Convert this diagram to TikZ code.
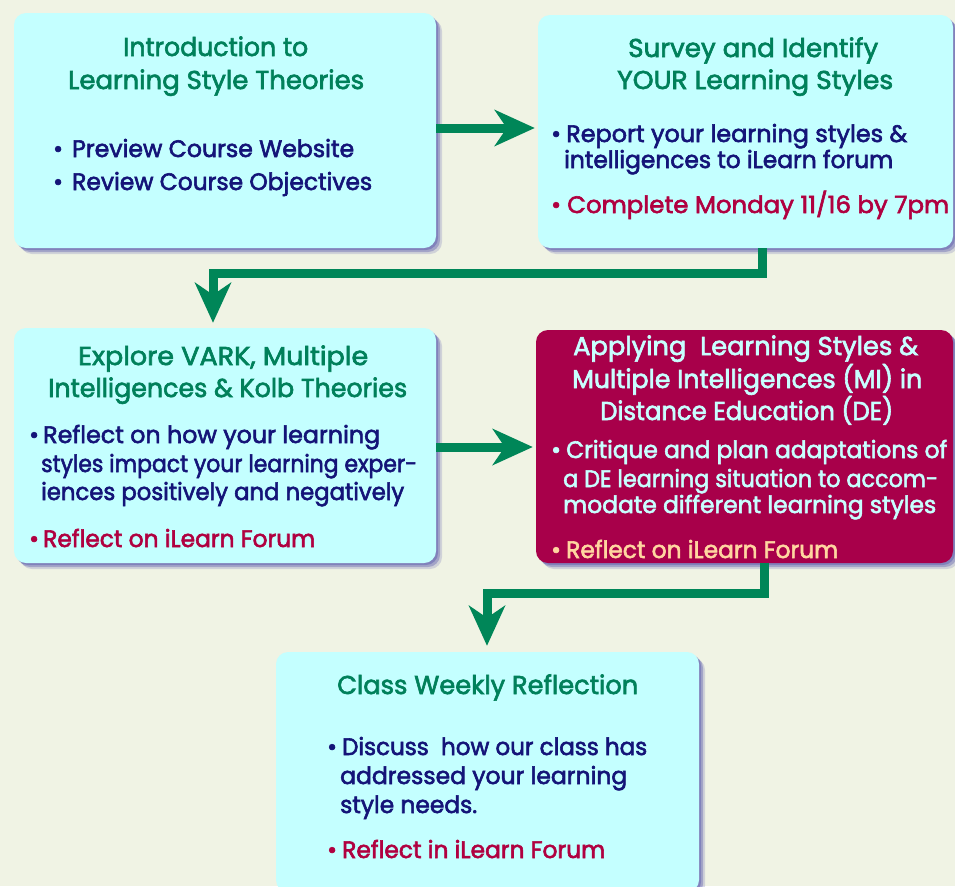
\documentclass[tikz,border=0pt]{standalone}
\usepackage{fontspec}
\usepackage{graphicx}
\setmainfont{Poppins}[UprightFeatures={FakeBold=2.4}]
\usetikzlibrary{arrows.meta,shadows}
\definecolor{bgc}{RGB}{240,243,228}
\definecolor{boxc}{RGB}{196,255,255}
\definecolor{titlec}{RGB}{0,128,90}
\definecolor{navyc}{RGB}{20,20,120}
\definecolor{redc}{RGB}{176,0,64}
\definecolor{maroonc}{RGB}{168,0,74}
\definecolor{lightc}{RGB}{200,255,255}
\definecolor{peachc}{RGB}{255,214,160}
\definecolor{arrowc}{RGB}{0,134,88}
\definecolor{shadowc}{RGB}{80,80,170}
\newcommand{\tfont}{\fontsize{25.8}{30}\selectfont}
\newcommand{\bfont}{\fontsize{23.8}{28}\selectfont}
\newcommand{\fw}[2]{\resizebox{#1pt}{\height}{#2}}
\begin{document}
\begin{tikzpicture}[x=1pt,y=-1pt,
  card/.style={rectangle, rounded corners=12pt, inner sep=0pt, fill=boxc,
    drop shadow={shadow xshift=2pt, shadow yshift=-2pt, opacity=0.4, fill=shadowc},
    drop shadow={shadow xshift=4pt, shadow yshift=-4pt, opacity=0.35, fill=shadowc},
    drop shadow={shadow xshift=6pt, shadow yshift=-6pt, opacity=0.2, fill=shadowc}},
  hot/.style={card, fill=maroonc},
  ttl/.style={font=\tfont, text=titlec, anchor=base west, inner sep=0pt},
  txt/.style={font=\bfont, text=navyc, anchor=base west, inner sep=0pt},
  arr/.style={draw=arrowc, line width=9pt, -{Stealth[length=40pt,width=36pt,inset=12pt]}}]
\fill[bgc] (0,0) rectangle (955,886);
\useasboundingbox (0,0) rectangle (955,886);
% boxes
\node[card, minimum width=422pt, minimum height=235pt] (b1) at (225,130.5) {};
\node[card, minimum width=415pt, minimum height=233pt] (b2) at (745.5,131.5) {};
\node[card, minimum width=422pt, minimum height=235pt] (b3) at (225,445.5) {};
\node[hot, minimum width=417pt, minimum height=233pt] (b4) at (744.5,446.5) {};
\node[card, minimum width=423pt, minimum height=240pt] (b5) at (487.5,772) {};
% arrows
\draw[arr, shorten >=3pt] (b1.east |- 0,128) -- (b2.west |- 0,128);
\draw[arr, shorten >=5pt] (b2.south -| 762,0) -- (762,273) -| (b3.north -| 213,0);
\draw[arr, shorten >=3pt] (b3.east |- 0,447) -- (b4.west |- 0,447);
\draw[arr, shorten >=6pt] (b4.south -| 764,0) -- (764,593) -| (b5.north -| 487,0);
% box 1
\node[ttl] (t1a) at (123,56) {\fw{185}{Introduction to}};
\node[ttl] (t1b) at (68,89) {\fw{296}{Learning Style Theories}};
\node[txt] (p1a) at (53,157) {•};
\node[txt] (x1a) at (72,157) {\fw{282}{Preview Course Website}};
\node[txt] (p1b) at (53,190) {•};
\node[txt] (x1b) at (72,190) {\fw{300}{Review Course Objectives}};
% box 2
\node[ttl] (t2a) at (628,57) {\fw{250}{Survey and Identify}};
\node[ttl] (t2b) at (617,89) {\fw{276}{YOUR Learning Styles}};
\node[txt] (p2a) at (551,142) {•};
\node[txt] (x2a) at (566,142) {\fw{341}{Report your learning styles \&}};
\node[txt] (x2b) at (564,168) {\fw{329}{intelligences to iLearn forum}};
\node[txt, text=redc] (p2c) at (551,213) {•};
\node[txt, text=redc] (x2c) at (567,213) {\fw{382}{Complete Monday 11/16 by 7pm}};
% box 3
\node[ttl] (t3a) at (78,365) {\fw{290}{Explore VARK, Multiple}};
\node[ttl] (t3b) at (48,397) {\fw{359}{Intelligences \& Kolb Theories}};
\node[txt] (p3a) at (29,443) {•};
\node[txt] (x3a) at (43,443) {\fw{337}{Reflect on how your learning}};
\node[txt] (x3b) at (41,472) {\fw{376}{styles impact your learning exper-}};
\node[txt] (x3c) at (41,500) {\fw{363}{iences positively and negatively}};
\node[txt, text=redc] (p3d) at (29,547) {•};
\node[txt, text=redc] (x3d) at (43,547) {\fw{272}{Reflect on iLearn Forum}};
% box 4
\node[ttl, text=lightc] (t4a) at (573,355) {\fw{345}{Applying\ \ Learning Styles \&}};
\node[ttl, text=lightc] (t4b) at (572,388) {\fw{350}{Multiple Intelligences (MI) in}};
\node[ttl, text=lightc] (t4c) at (600,420) {\fw{293}{Distance Education (DE)}};
\node[txt, text=lightc] (p4a) at (551,458) {•};
\node[txt, text=lightc] (x4a) at (566,458) {\fw{381}{Critique and plan adaptations of}};
\node[txt, text=lightc] (x4b) at (563,487) {\fw{375}{a DE learning situation to accom-}};
\node[txt, text=lightc] (x4c) at (563,513) {\fw{373}{modate different learning styles}};
\node[txt, text=peachc] (p4d) at (551,558) {•};
\node[txt, text=peachc] (x4d) at (566,558) {\fw{272}{Reflect on iLearn Forum}};
% box 5
\node[ttl] (t5a) at (337,694) {\fw{301}{Class Weekly Reflection}};
\node[txt] (p5a) at (327,755) {•};
\node[txt] (x5a) at (342,755) {\fw{305}{Discuss\ \ how our class has}};
\node[txt] (x5b) at (340,784) {\fw{287}{addressed your learning}};
\node[txt] (x5c) at (340,813) {\fw{137}{style needs.}};
\node[txt, text=redc] (p5d) at (327,858) {•};
\node[txt, text=redc] (x5d) at (342,858) {\fw{263}{Reflect in iLearn Forum}};
\end{tikzpicture}
\end{document}
